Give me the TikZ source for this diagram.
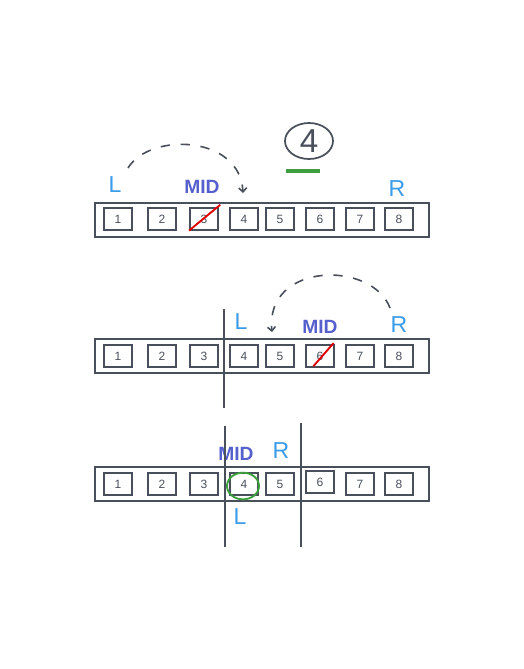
\documentclass[tikz,border=0pt]{standalone}
\usepackage{fontspec}
\setsansfont{Liberation Sans}
\usetikzlibrary{arrows.meta,shapes.geometric}
\definecolor{ink}{HTML}{4A4F5C}
\definecolor{sky}{HTML}{3A9BE8}
\definecolor{midblue}{HTML}{5560CC}
\definecolor{strikered}{HTML}{E00000}
\definecolor{okgreen}{HTML}{3C9E3C}
\tikzset{
  cell/.style={draw=ink,line width=1.4pt,minimum width=21pt,minimum height=16pt,inner sep=0pt,text=ink,font=\sffamily\small},
  array/.style={draw=ink,line width=1.4pt,minimum width=250pt,minimum height=25pt,inner sep=0pt},
  ptr/.style={text=sky,font=\sffamily\LARGE},
  midlbl/.style={text=midblue,font=\sffamily\Large\bfseries},
  hop/.style={ink,line width=1.2pt,dash pattern=on 7pt off 8pt,-{Straight Barb[length=3pt,width=6pt]}},
  wall/.style={ink,line width=1.4pt},
  cross/.style={strikered,line width=1.4pt}
}
\begin{document}
\begin{tikzpicture}[x=0.75pt,y=-0.75pt]
  \useasboundingbox (0,0) rectangle (524,669);
  % first pass
      \node[array] (arr1) at (262,220) {};
      \node[cell] (a1) at (118,219) {1};
      \node[cell] (a2) at (162,219) {2};
      \node[cell] (a3) at (204,219) {3};
      \node[cell] (a4) at (244,219) {4};
      \node[cell] (a5) at (280,219) {5};
      \node[cell] (a6) at (320,219) {6};
      \node[cell] (a7) at (360,219) {7};
      \node[cell] (a8) at (399,219) {8};
      \node[ptr] (l1) at (115,185) {L};
      \node[midlbl] (m1) at (202,187) {MID};
      \node[ptr] (r1) at (397,189) {R};
      \node[draw=ink,line width=1.3pt,ellipse,minimum width=36pt,minimum height=27pt,inner sep=0pt,text=ink,font=\sffamily\Huge] (ans) at (309,141) {4};
      \coordinate (s1) at (128,168);
      \coordinate (e1) at (243,193);
    \draw[hop] (s1) .. controls (150,132) and (240,135) .. (e1);
    \draw[okgreen,line width=3pt] ([xshift=-17pt,yshift=-8pt]ans.south) -- ([xshift=8pt,yshift=-8pt]ans.south);
    \draw[cross] (a3.south west) -- ([xshift=1pt,yshift=2pt]a3.north east);
  % second pass
      \node[array] (arr2) at (262,356) {};
      \node[cell] (b1) at (118,356) {1};
      \node[cell] (b2) at (162,356) {2};
      \node[cell] (b3) at (204,356) {3};
      \node[cell] (b4) at (244,356) {4};
      \node[cell] (b5) at (280,356) {5};
      \node[cell] (b6) at (320,356) {6};
      \node[cell] (b7) at (360,356) {7};
      \node[cell] (b8) at (399,356) {8};
      \node[ptr] (l2) at (241,322) {L};
      \node[midlbl] (m2) at (320,327) {MID};
      \node[ptr] (r2) at (399,325) {R};
      \coordinate (s2) at (390,308);
      \coordinate (e2) at (272,332);
      \coordinate (w2t) at (224,309);
      \coordinate (w2b) at (224,408);
    \draw[hop] (s2) .. controls (372,260) and (265,262) .. (e2);
    \draw[wall] (w2t) -- (w2b);
    \draw[cross] ([xshift=-5pt,yshift=1pt]b6.south) -- ([xshift=-1pt,yshift=1pt]b6.north east);
  % third pass
      \node[array] (arr3) at (262,484) {};
      \node[cell] (c1) at (118,484) {1};
      \node[cell] (c2) at (162,484) {2};
      \node[cell] (c3) at (204,484) {3};
      \node[cell] (c4) at (244,484) {4};
      \node[cell] (c5) at (280,484) {5};
      \node[cell] (c6) at (320,482) {6};
      \node[cell] (c7) at (360,484) {7};
      \node[cell] (c8) at (399,484) {8};
      \node[midlbl] (m3) at (236,454) {MID};
      \node[ptr] (r3) at (281,451) {R};
      \node[ptr] (l3) at (240,517) {L};
      \node[draw=okgreen,line width=1.4pt,ellipse,minimum width=24pt,minimum height=20pt,inner sep=0pt] (hit) at (243,486) {};
      \coordinate (w3t) at (225,426);
      \coordinate (w3b) at (225,547);
      \coordinate (w4t) at (301,423);
      \coordinate (w4b) at (301,547);
    \draw[wall] (w3t) -- (w3b);
    \draw[wall] (w4t) -- (w4b);
    \end{tikzpicture}
\end{document}
